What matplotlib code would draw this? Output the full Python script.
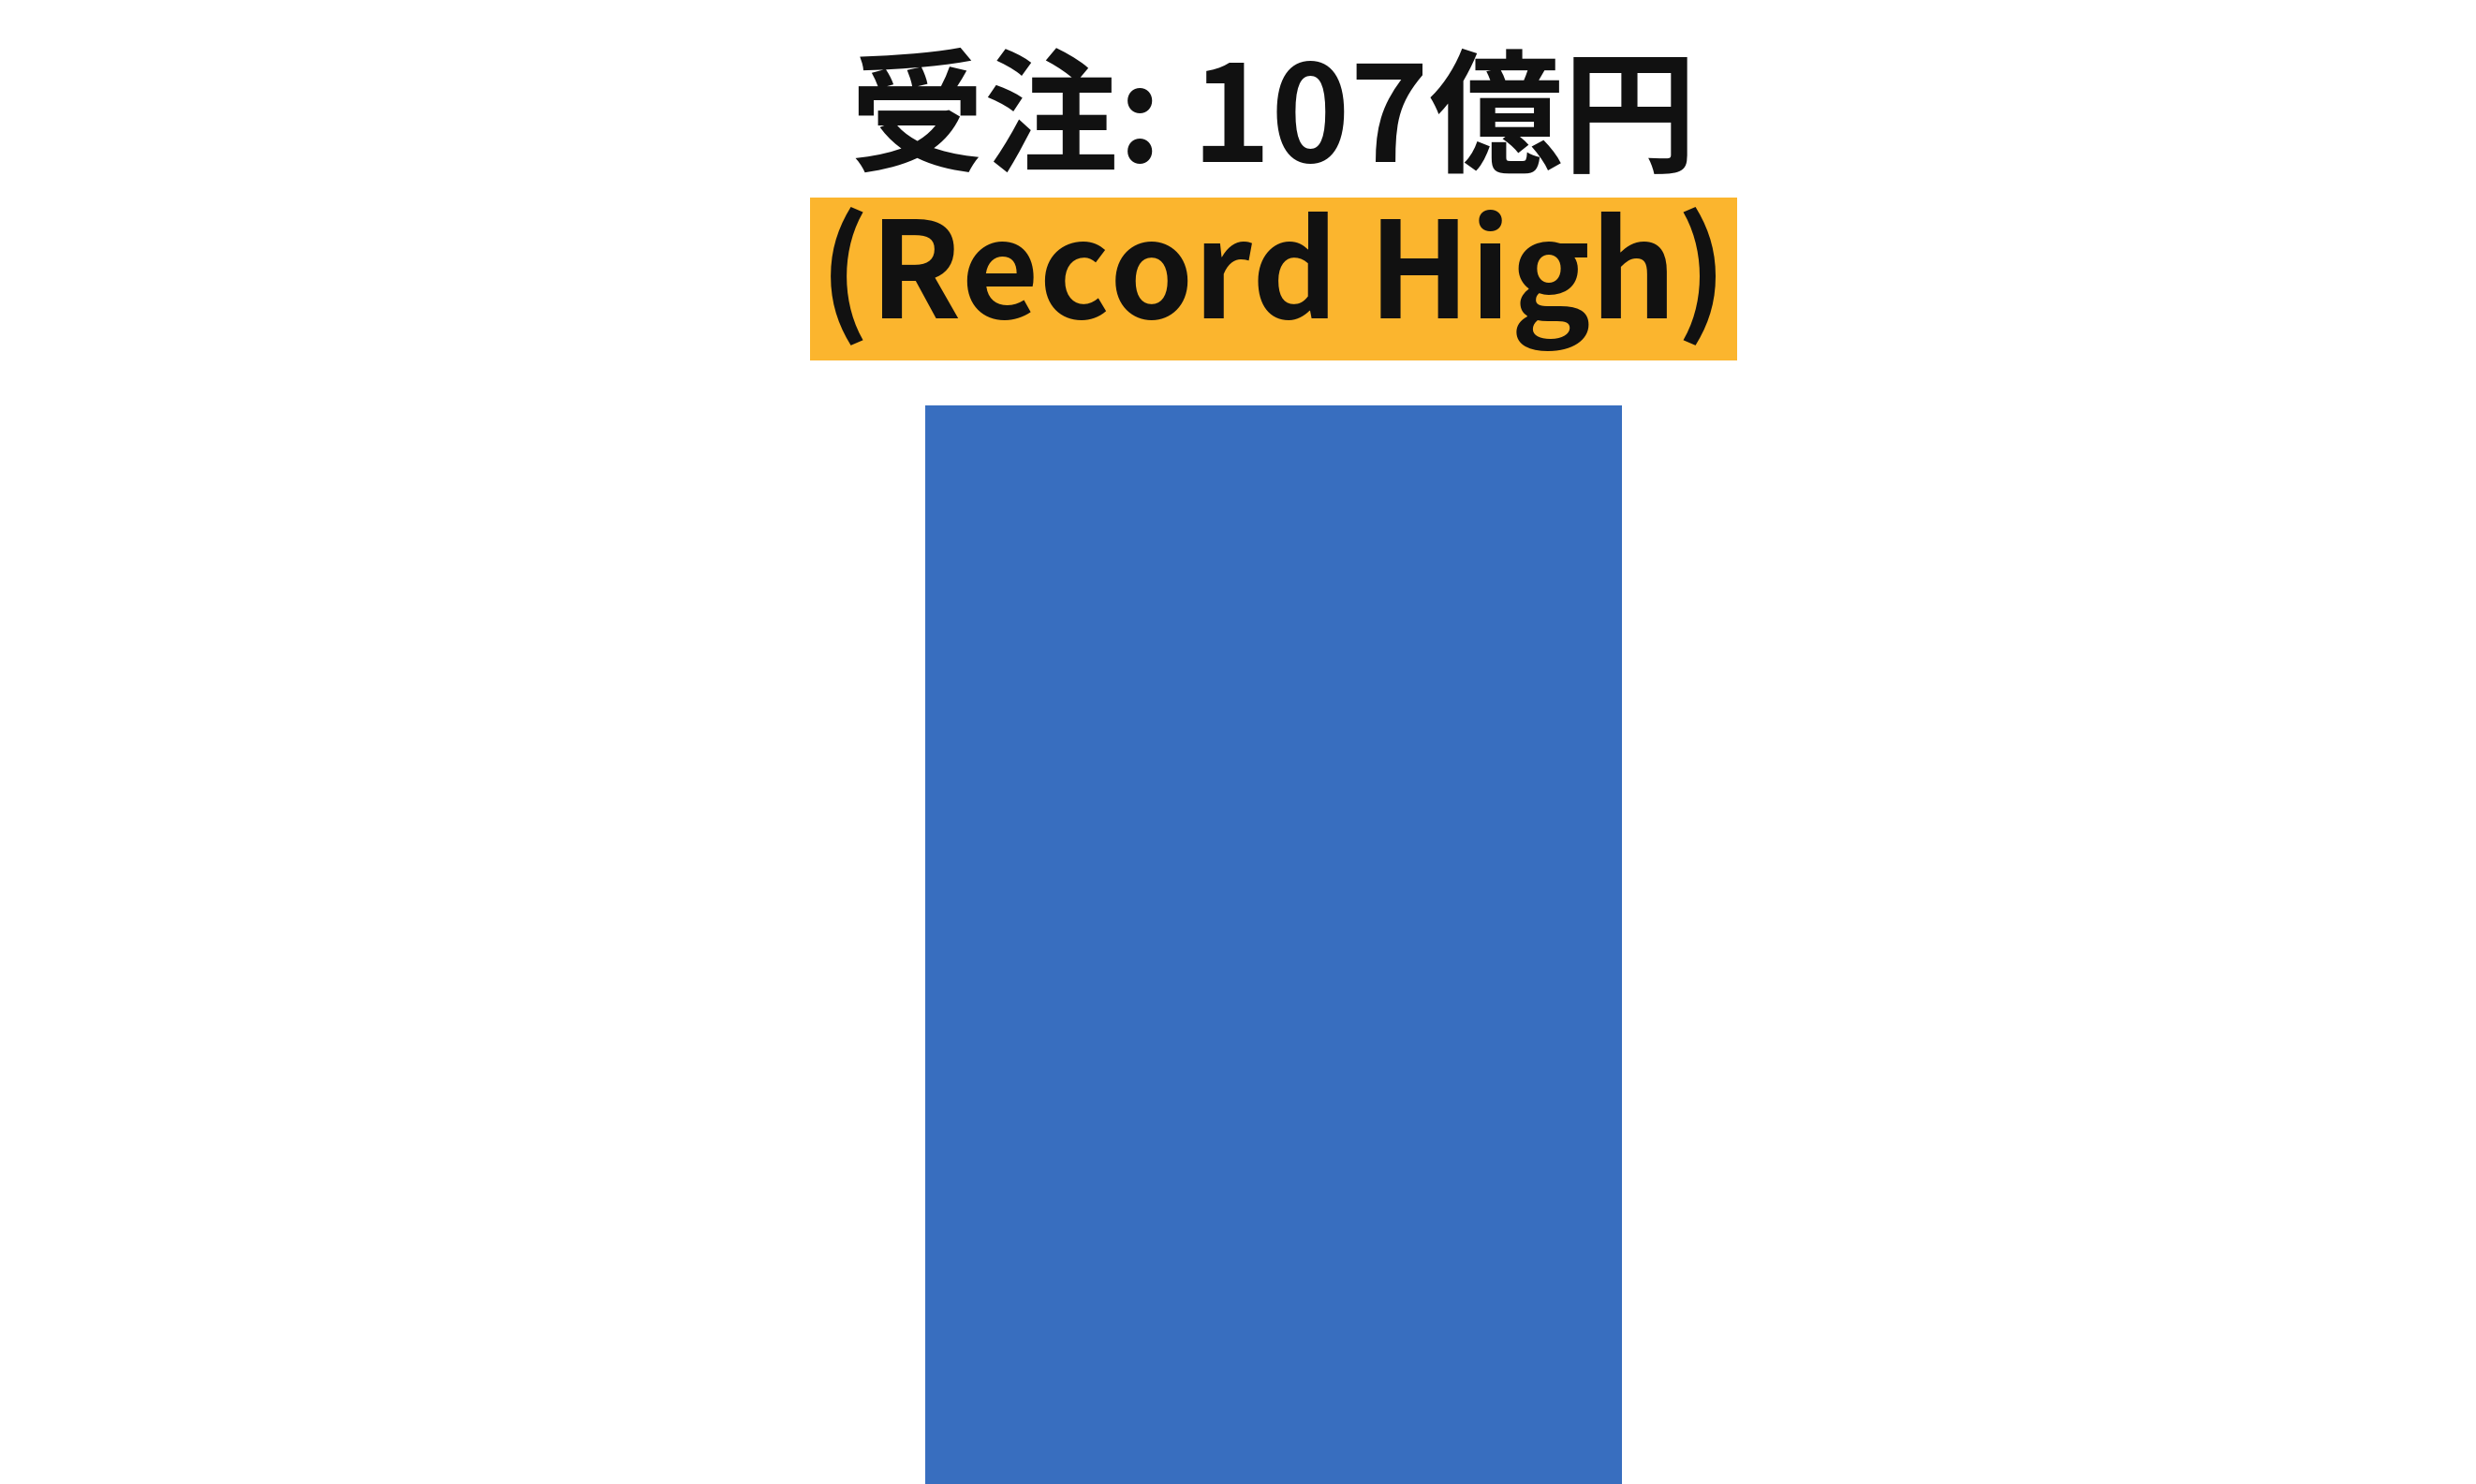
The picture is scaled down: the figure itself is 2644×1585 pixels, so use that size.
import matplotlib
matplotlib.use("Agg")
import matplotlib.pyplot as plt

plt.rcParams['font.family'] = ['Noto Sans CJK JP', 'DejaVu Sans']

# data
categories = ["受注"]
values = [107]
value_label = "受注: 107億円"
note_label = "(Record High)"

bar_color = "#386EBF"
box_color = "#FBB52E"

fig = plt.figure(figsize=(26.44, 15.85), dpi=100)
ax = fig.add_axes([0, 0, 1, 1])

ax.bar(range(len(categories)), values, width=1.0, color=bar_color, align="center")

ax.set_xlim(-1.828, 1.726)
ax.set_ylim(0, values[0] / 0.7268)
ax.axis("off")

for i, v in enumerate(values):
    ax.annotate(value_label, xy=(i, v), xytext=(0, 217), textcoords="offset points",
                ha="center", va="center", fontsize=103, fontweight="bold", color="#111111")
    ax.annotate(note_label, xy=(i, v), xytext=(0, 97), textcoords="offset points",
                ha="center", va="center", fontsize=103, fontweight="bold", color="#111111",
                bbox=dict(boxstyle="square,pad=0.07", facecolor=box_color, edgecolor="none"))

fig.savefig("out.png", dpi=100)
